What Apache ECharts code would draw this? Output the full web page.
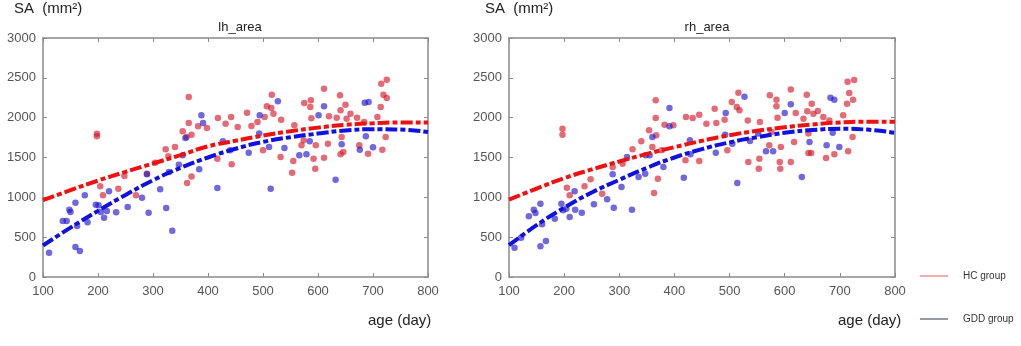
<!DOCTYPE html>
<html><head><meta charset="utf-8">
<script src="https://cdn.jsdelivr.net/npm/echarts@6/dist/echarts.min.js"></script>
<style>html,body{margin:0;padding:0;background:#fff}#c{width:1021px;height:346px}</style>
</head><body><div id="c"></div>
<script>
const xTicks = [100,200,300,400,500,600,700,800];
const yTicks = [0,500,1000,1500,2000,2500,3000];
const panelTitles = ['lh_area','rh_area'];
const seriesNames = ['HC group','GDD group'];

const lhGDD = [[111,305],[136,703],[143,703],[148,845],[150,816],[159,933],[159,377],[167,326],[162,640],[176,1025],[181,686],[196,908],[201,900],[205,816],[211,745],[220,1075],[216,828],[233,812],[254,879],[280,996],[289,1289],[292,808],[313,1100],[324,866],[329,1318],[335,582],[347,1410],[354,1527],[359,1745],[388,2029],[391,1933],[384,1351],[417,1117],[427,1703],[440,1590],[474,1561],[494,2029],[493,1800],[511,1632],[514,1109],[527,2205],[539,1619],[566,1527],[579,1540],[585,1703],[601,2029],[611,2142],[632,1222],[643,1665],[676,1598],[687,1766],[685,2188],[692,2197],[700,1628]];
const lhHC = [[198,1799],[198,1766],[204,1138],[209,1025],[237,1109],[248,1268],[269,1025],[289,1297],[304,1435],[323,1602],[328,1515],[340,1632],[354,1828],[361,1757],[362,1180],[365,2259],[365,1933],[370,1263],[370,1787],[382,1891],[398,1870],[418,1996],[432,1925],[442,2008],[443,1414],[417,1485],[454,1883],[471,2063],[479,1895],[490,1946],[503,2008],[500,1590],[507,2142],[515,2121],[516,2289],[519,2050],[533,1975],[532,1506],[553,1310],[555,1456],[557,1904],[575,2184],[587,2218],[586,2134],[588,1992],[570,1653],[574,1716],[592,1485],[595,1360],[596,1653],[611,2364],[611,1498],[618,1674],[620,2017],[634,2000],[640,2280],[641,2092],[643,1757],[641,1540],[646,1569],[650,2163],[659,2050],[652,1987],[671,2000],[675,1653],[684,1946],[691,1548],[708,2008],[714,2134],[717,1598],[715,2427],[725,2477],[719,2289],[725,2247],[723,1757]];
const rhGDD = [[110,368],[122,494],[136,761],[145,845],[148,803],[157,920],[157,385],[167,452],[160,661],[183,732],[195,920],[198,837],[204,858],[210,753],[219,1075],[220,845],[232,808],[254,912],[278,975],[290,870],[288,1289],[304,1130],[314,1506],[323,845],[335,1255],[347,1297],[355,1527],[348,1527],[360,1757],[380,1380],[391,2121],[391,1891],[417,1247],[428,1715],[429,1540],[475,1561],[493,2058],[492,1787],[505,1674],[514,1180],[527,2264],[537,1707],[552,1800],[566,1577],[579,1577],[600,2058],[611,2167],[631,1255],[645,1695],[676,1653],[683,2251],[690,2226],[687,1812],[699,1632]];
const rhHC = [[197,1862],[197,1787],[205,1121],[210,1025],[237,1138],[248,1226],[269,1046],[288,1380],[306,1423],[324,1602],[340,1703],[354,1841],[360,1632],[363,1054],[366,2218],[366,1996],[370,1234],[367,1778],[377,1590],[382,1912],[398,1904],[421,2008],[433,1996],[445,2037],[445,1456],[420,1464],[458,1925],[473,2113],[476,1933],[491,1975],[496,1590],[504,2197],[513,2134],[516,2314],[518,2092],[533,1966],[534,1443],[553,1360],[554,1485],[555,1946],[573,2280],[585,2226],[585,2142],[587,2000],[572,1653],[576,1820],[591,1443],[592,1360],[593,1632],[611,2352],[611,1443],[617,1695],[620,2058],[634,1987],[640,2289],[641,2079],[643,1800],[643,1556],[648,1556],[649,2176],[652,2050],[660,2084],[670,2008],[675,1493],[681,1966],[690,1540],[706,2029],[713,2176],[715,1577],[714,2452],[726,2473],[717,2310],[724,2226],[723,1757]];

const fitAges = [100,150,200,250,300,350,400,450,500,550,600,650,700,750,800];
const lhFitHC  = [965,1090,1210,1320,1425,1530,1640,1710,1775,1830,1875,1910,1930,1940,1940];
const lhFitGDD = [395,620,830,1030,1215,1370,1500,1610,1695,1755,1800,1840,1855,1850,1820];
const rhFitHC  = [970,1110,1240,1350,1450,1545,1630,1710,1780,1835,1880,1915,1940,1950,1950];
const rhFitGDD = [400,650,870,1060,1220,1370,1500,1605,1690,1755,1810,1845,1860,1850,1810];

const chart = echarts.init(document.getElementById('c'));
const grids = [
  {left:43, top:38, width:385, height:239},
  {left:509, top:38, width:386, height:239}
];
const frame = '#8a8a8a';
const lab = {color:'#555', fontSize:13, fontFamily:'Liberation Sans, Arial, sans-serif', formatter:(v)=>String(v)};
const xAxis = [], yAxis = [];
grids.forEach((g,i)=>{
  ['bottom','top'].forEach((pos,k)=>{
    xAxis.push({type:'value', gridIndex:i, position:pos, min:100, max:800, interval:100,
      axisLine:{show:true, onZero:false, lineStyle:{color:frame, width:1.5}},
      axisTick:{show:true, inside:true, length:4, lineStyle:{color:frame}},
      axisLabel:{show:k===0, margin:8, ...lab}, splitLine:{show:false}});
  });
  ['left','right'].forEach((pos,k)=>{
    yAxis.push({type:'value', gridIndex:i, position:pos, min:0, max:3000, interval:500,
      axisLine:{show:true, onZero:false, lineStyle:{color:frame, width:1.5}},
      axisTick:{show:true, inside:true, length:4, lineStyle:{color:frame}},
      axisLabel:{show:k===0, margin:7, ...lab}, splitLine:{show:false}});
  });
});
const red = 'rgba(212,22,40,0.8)', blue = 'rgba(35,25,205,0.82)';
function scatter(name, data, gi, color){
  return {type:'scatter', name, xAxisIndex:gi*2, yAxisIndex:gi*2, data, symbolSize:6.5,
    itemStyle:{color}, z:2};
}
function fit(name, vals, gi, color){
  return {type:'line', name, xAxisIndex:gi*2, yAxisIndex:gi*2, data:fitAges.map((a,j)=>[a,vals[j]]),
    smooth:true, showSymbol:false, symbol:'none', z:3,
    lineStyle:{color, width:4, type:[12,3,5,3]}};
}
const series = [
  scatter(seriesNames[0], lhHC, 0, red), scatter(seriesNames[1], lhGDD, 0, blue),
  scatter(seriesNames[0], rhHC, 1, red), scatter(seriesNames[1], rhGDD, 1, blue),
  fit(seriesNames[0], lhFitHC, 0, '#f01010'), fit(seriesNames[1], lhFitGDD, 0, '#1010e0'),
  fit(seriesNames[0], rhFitHC, 1, '#f01010'), fit(seriesNames[1], rhFitGDD, 1, '#1010e0')
];
const txt = {fill:'#222', fontFamily:'Liberation Sans, Arial, sans-serif'};
chart.setOption({
  animation:false,
  grid: grids,
  xAxis, yAxis, series,
  title: [
    {text:panelTitles[0], left:235, top:16, textAlign:'center', textStyle:{fontSize:13, fontWeight:'normal', color:'#222'}},
    {text:panelTitles[1], left:702, top:16, textAlign:'center', textStyle:{fontSize:13, fontWeight:'normal', color:'#222'}}
  ],
  legend: {orient:'vertical', left:915, top:266, itemGap:33, itemWidth:28, itemHeight:2,
    textStyle:{fontSize:10, color:'#333', padding:[0,0,0,10]},
    data:[{name:'HC group', icon:'rect', itemStyle:{color:'#f29a9a'}},
          {name:'GDD group', icon:'rect', itemStyle:{color:'#7c8190'}}]},
  graphic: [
    {type:'text', left:14, top:1, style:{text:'SA  (mm²)', fontSize:15, ...txt}},
    {type:'text', left:485, top:1, style:{text:'SA  (mm²)', fontSize:15, ...txt}},
    {type:'text', left:368, top:313, style:{text:'age (day)', fontSize:15, ...txt}},
    {type:'text', left:838, top:313, style:{text:'age (day)', fontSize:15, ...txt}}
  ]
});
</script></body></html>
